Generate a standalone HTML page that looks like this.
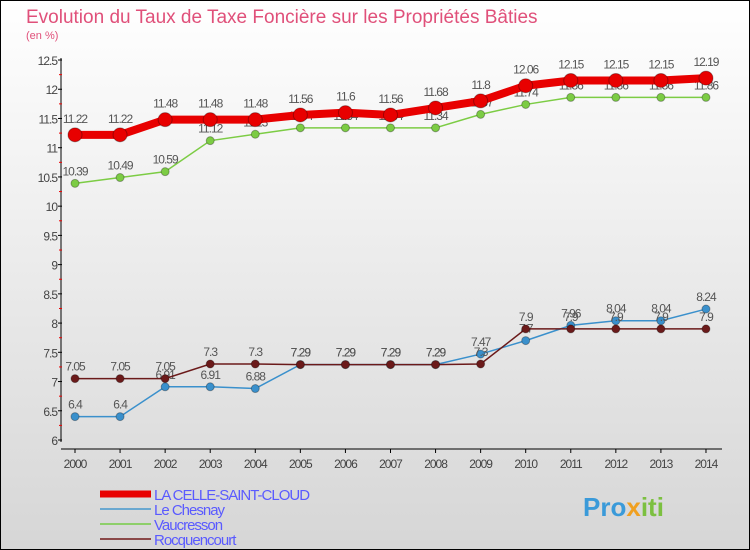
<!DOCTYPE html>
<html><head><meta charset="utf-8"><style>
body{margin:0;width:750px;height:550px;overflow:hidden;font-family:"Liberation Sans",sans-serif}
#wrap{position:absolute;left:0;top:0;width:748px;height:548px;border:1px solid #000;background:linear-gradient(#fff,#d6d6d6)}
</style></head><body>
<div id="wrap">
<svg id="c" width="750" height="550" style="position:absolute;left:-1px;top:-1px"></svg>
</div>
<script>
const years=["2000","2001","2002","2003","2004","2005","2006","2007","2008","2009","2010","2011","2012","2013","2014"];
const celle=[11.22,11.22,11.48,11.48,11.48,11.56,11.6,11.56,11.68,11.8,12.06,12.15,12.15,12.15,12.19];
const chesnay=[6.4,6.4,6.91,6.91,6.88,7.29,7.29,7.29,7.29,7.47,7.7,7.96,8.04,8.04,8.24];
const vauc=[10.39,10.49,10.59,11.12,11.23,11.34,11.34,11.34,11.34,11.57,11.74,11.86,11.86,11.86,11.86];
const rocq=[7.05,7.05,7.05,7.3,7.3,7.29,7.29,7.29,7.29,7.3,7.9,7.9,7.9,7.9,7.9];
const yTicks=["6","6.5","7","7.5","8","8.5","9","9.5","10","10.5","11","11.5","12","12.5"];
const svg=document.getElementById('c');const NS="http://www.w3.org/2000/svg";
function X(i){return 75+i*45.07;}
function Y(v){return 440-(v-6)*58.46;}
function mk(t,a,name,txt){const e=document.createElementNS(NS,t);for(const k in a)e.setAttribute(k,a[k]);


if(txt!==undefined)e.textContent=txt;svg.appendChild(e);return e;}
mk('text',{x:26,y:23,'font-size':19,fill:'#e0507a'},'chart-title','Evolution du Taux de Taxe Foncière sur les Propriétés Bâties');
mk('text',{x:26,y:39,'font-size':11,fill:'#e0507a'},'y-unit-label','(en %)');
mk('line',{x1:61,y1:58,x2:61,y2:442,stroke:'#000'},'y-axis');
mk('line',{x1:61,y1:449,x2:722,y2:449,stroke:'#000'},'x-axis');
yTicks.forEach(t=>{const y=Y(+t);
mk('line',{x1:58,y1:y,x2:62,y2:y,stroke:'#000'},'y-tick');
mk('text',{x:57,y:y+5,'font-size':12,'text-anchor':'end',fill:'#444','letter-spacing':'-1'},'y-tick-label',t);
if(+t<12.5)mk('line',{x1:59,y1:y-14.6,x2:62,y2:y-14.6,stroke:'#e00'},'y-minor-tick');});
years.forEach((t,i)=>{const x=X(i);
mk('line',{x1:x,y1:449,x2:x,y2:453,stroke:'#000'},'x-tick');
mk('text',{x:x,y:468,'font-size':12,'text-anchor':'middle',fill:'#444','letter-spacing':'-1'},'x-tick-label',t);});
function series(d,col,w,r,name,dy){
mk('polyline',{points:d.map((v,i)=>X(i)+','+Y(v)).join(' '),fill:'none',stroke:col,'stroke-width':w},name+'-line');
d.forEach((v,i)=>{mk('circle',{cx:X(i),cy:Y(v),r:r,fill:col,stroke:'rgba(0,0,0,0.3)'},name+'-point');
mk('text',{x:X(i),y:Y(v)-dy,'font-size':12,'text-anchor':'middle',fill:'#555','letter-spacing':'-1'},name+'-value',String(v));});}
series(vauc,'#7ccc44',1.5,4,'vaucresson',8);
series(chesnay,'#3a90cc',1.5,4,'le-chesnay',8);
series(rocq,'#6b1a1a',1.5,4,'rocquencourt',8);
series(celle,'#e80000',8,7,'la-celle',12);
const leg=[["LA CELLE-SAINT-CLOUD","#e80000",7],["Le Chesnay","#6aa8d0",2],["Vaucresson","#8ecf6a",2],["Rocquencourt","#8a4848",2]];
leg.forEach((l,i)=>{const y=494+i*15;
mk('line',{x1:100,y1:y,x2:151,y2:y,stroke:l[1],'stroke-width':l[2]},'legend-swatch');
mk('text',{x:154,y:y+6,'font-size':15,fill:'#5a5aff','letter-spacing':'-1'},'legend-entry',l[0]);});
const logo=mk('text',{x:583,y:516,'font-size':26,'font-weight':'bold'},'proxiti-logo');
[["Pro","#3a9ad9"],["x","#f0a020"],["iti","#7cc040"]].forEach(p=>{const s=document.createElementNS(NS,'tspan');s.setAttribute('fill',p[1]);s.textContent=p[0];logo.appendChild(s);});
</script>
</body></html>
